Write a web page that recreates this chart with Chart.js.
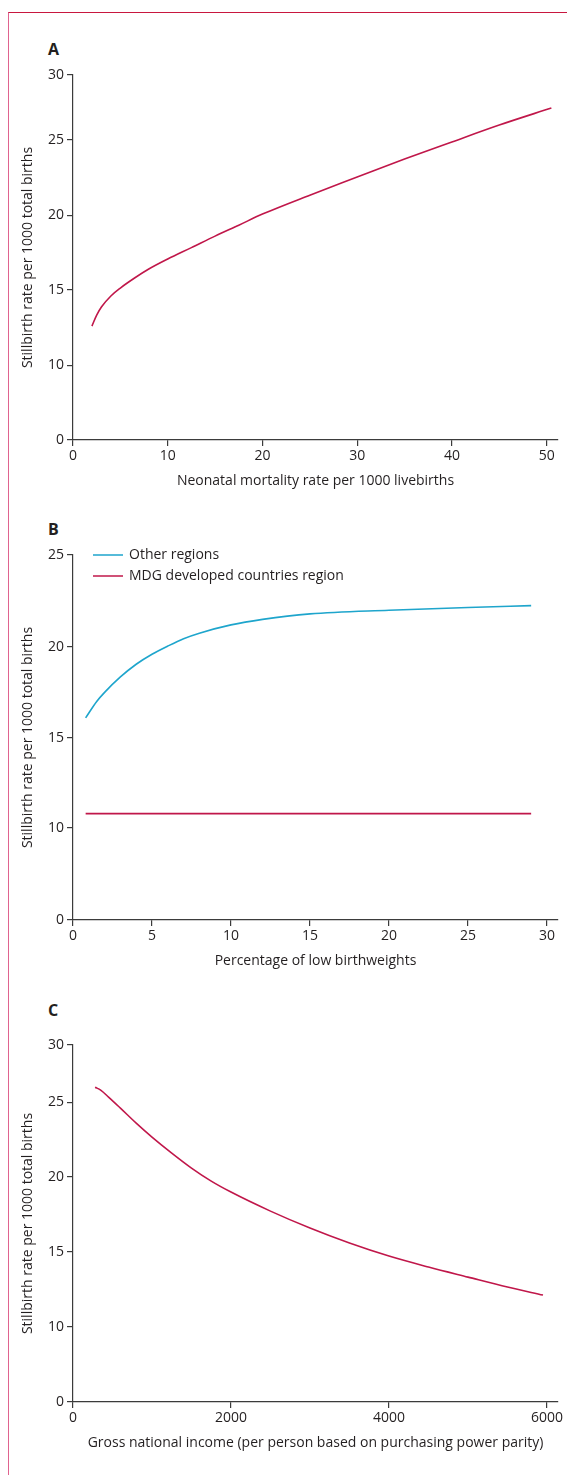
<!DOCTYPE html>
<html>
<head>
<meta charset="utf-8">
<title>Stillbirth rate associations</title>
<script src="https://cdn.jsdelivr.net/npm/chart.js@4.4.1/dist/chart.umd.min.js"></script>
<style>
  body { margin: 0; background: #fff; width: 567px; height: 1475px; position: relative; overflow: hidden; }
  .frame { position: absolute; left: 8px; top: 12px; right: 0; bottom: 0;
           border-top: 1.5px solid #c8173f; border-left: 1.5px solid #e0638f; }
  .panel { position: absolute; left: 0; width: 567px; height: 480px; }
  .letter { position: absolute; left: 48px; font: bold 16px "Open Sans"; color: #231f20; }
</style>
</head>
<body>
<div class="frame"></div>
<div class="letter" style="top:38px">A</div>
<div class="letter" style="top:518px">B</div>
<div class="letter" style="top:999px">C</div>
<div class="panel" style="top:20px"><canvas id="chartA"></canvas></div>
<div class="panel" style="top:500px"><canvas id="chartB"></canvas></div>
<div class="panel" style="top:990px"><canvas id="chartC"></canvas></div>
<script>
// A: neonatal mortality vs stillbirth rate
const neonatalRate = [2, 2.5, 3, 4, 5, 6.5, 8, 10, 12.5, 15, 17.5, 20, 25, 30, 35, 40, 45, 50.5];
const stillbirthA  = [12.6, 13.33, 13.87, 14.6, 15.13, 15.8, 16.4, 17.07, 17.83, 18.6, 19.33, 20.07, 21.33, 22.53, 23.73, 24.87, 26.15, 27.46];
const xTicksA = [0, 10, 20, 30, 40, 50];
const yTicksA = [0, 10, 15, 20, 25, 30];

// B: low birthweight
const lowBirthweight = [0.8, 1.5, 2, 3, 4, 5, 6, 7, 8, 10, 12, 15, 20, 25, 29];
const otherRegions   = [16.1, 17.0, 17.5, 18.35, 19.05, 19.6, 20.05, 20.45, 20.75, 21.2, 21.5, 21.8, 22.0, 22.15, 22.25];
const mdgLowBirthweight = [0.8, 29];
const mdgDeveloped      = [10.8, 10.8];
const xTicksB = [0, 5, 10, 15, 20, 25, 30];
const yTicksB = [0, 10, 15, 20, 25];

// C: gross national income
const gni = [280, 350, 450, 600, 800, 1000, 1250, 1500, 1750, 2000, 2500, 3000, 3500, 4000, 4500, 5000, 5500, 5950];
const stillbirthC = [26.3, 26.05, 25.44, 24.6, 23.6, 22.67, 21.6, 20.6, 19.73, 19.0, 17.73, 16.6, 15.6, 14.73, 14.0, 13.33, 12.67, 12.13];
const xTicksC = [0, 2000, 4000, 6000];
const yTicksC = [0, 10, 15, 20, 25, 30];

const yTitle = 'Stillbirth rate per 1000 total births';
const ink = '#231f20';
const axisColor = '#3b3b3b';
const crimson = '#c0174a';
const cyan = '#1ea5cc';

// y axis in the figure is broken: 0-10 takes the room of one 5-unit step
class BrokenScale extends Chart.LinearScale {
  getPixelForValue(value) {
    const k = this.knots;
    if (!k) return super.getPixelForValue(value);
    let d = k[k.length - 1][1];
    for (let i = 1; i < k.length; i++) {
      if (value <= k[i][0]) {
        const t = (value - k[i - 1][0]) / (k[i][0] - k[i - 1][0]);
        d = k[i - 1][1] + t * (k[i][1] - k[i - 1][1]);
        break;
      }
    }
    return this.getPixelForDecimal(d);
  }
}
BrokenScale.id = 'broken';
BrokenScale.defaults = Chart.LinearScale.defaults;
Chart.register(BrokenScale);

Chart.defaults.font.family = '"Open Sans"';
Chart.defaults.font.size = 14;
Chart.defaults.color = ink;

const insideLegend = {
  id: 'insideLegend',
  afterDraw(chart) {
    if (!chart.options.plugins.insideLegend) return;
    const { ctx, chartArea } = chart;
    ctx.save();
    ctx.font = '14px "Open Sans"';
    ctx.textBaseline = 'middle';
    chart.data.datasets.forEach((ds, i) => {
      const y = chartArea.top + i * 21;
      ctx.strokeStyle = ds.borderColor;
      ctx.lineWidth = 1.5;
      ctx.beginPath();
      ctx.moveTo(chartArea.left + 20, y);
      ctx.lineTo(chartArea.left + 50, y);
      ctx.stroke();
      ctx.fillStyle = ink;
      ctx.fillText(ds.label, chartArea.left + 56, y);
    });
    ctx.restore();
  }
};

function axisStyle() {
  return {
    border: { display: true, color: axisColor, width: 1.2 },
    grid: { display: true, drawOnChartArea: false, drawTicks: true, tickLength: 6, color: axisColor, lineWidth: 1.2 },
  };
}

function makeChart(id, datasets, opt) {
  return new Chart(document.getElementById(id), {
    type: 'line',
    data: { datasets: datasets },
    plugins: [insideLegend],
    options: {
      responsive: true,
      maintainAspectRatio: false,
      animation: false,
      events: [],
      layout: { padding: { top: 55, right: 9, left: 0, bottom: opt.padBottom } },
      elements: { point: { radius: 0 }, line: { borderWidth: 1.6, cubicInterpolationMode: 'monotone' } },
      plugins: { legend: { display: false }, tooltip: { enabled: false }, insideLegend: opt.legend },
      scales: {
        x: {
          type: 'linear', min: 0, max: opt.xMax,
          ...axisStyle(),
          afterBuildTicks: s => { s.ticks = opt.xTicks.map(v => ({ value: v })); },
          afterFit: s => { s.height = 60; },
          ticks: { padding: 2, maxRotation: 0, callback: v => String(v) },
          title: { display: true, text: opt.xTitle, padding: { top: 0, bottom: 11 } },
        },
        y: {
          type: 'broken', min: 0, max: opt.yMax,
          ...axisStyle(),
          afterDataLimits: s => { s.knots = opt.knots; },
          afterBuildTicks: s => { s.ticks = opt.yTicks.map(v => ({ value: v })); },
          afterFit: s => { s.width = 73; },
          ticks: { padding: 3, callback: v => String(v) },
          title: { display: true, text: yTitle, padding: { top: 20, bottom: 0 } },
        },
      },
    },
  });
}

const pts = (xs, ys) => xs.map((x, i) => ({ x: x, y: ys[i] }));

makeChart('chartA', [
  { label: 'A', data: pts(neonatalRate, stillbirthA), borderColor: crimson },
], {
  xMax: 51.2, yMax: 30, xTicks: xTicksA, yTicks: yTicksA, padBottom: 0, legend: false,
  knots: [[0, 0], [10, 0.205], [15, 0.411], [20, 0.616], [25, 0.822], [30, 1]],
  xTitle: 'Neonatal mortality rate per 1000 livebirths',
});

makeChart('chartB', [
  { label: 'Other regions', data: pts(lowBirthweight, otherRegions), borderColor: cyan },
  { label: 'MDG developed countries region', data: pts(mdgLowBirthweight, mdgDeveloped), borderColor: crimson },
], {
  xMax: 30.7, yMax: 25, xTicks: xTicksB, yTicks: yTicksB, padBottom: 0, legend: true,
  knots: [[0, 0], [10, 0.252], [15, 0.499], [20, 0.748], [25, 1]],
  xTitle: 'Percentage of low birthweights',
});

makeChart('chartC', [
  { label: 'C', data: pts(gni, stillbirthC), borderColor: crimson },
], {
  xMax: 6140, yMax: 30, xTicks: xTicksC, yTicks: yTicksC, padBottom: 8, legend: false,
  knots: [[0, 0], [10, 0.21], [15, 0.42], [20, 0.63], [25, 0.84], [30, 1]],
  xTitle: 'Gross national income (per person based on purchasing power parity)',
});
</script>
</body>
</html>
